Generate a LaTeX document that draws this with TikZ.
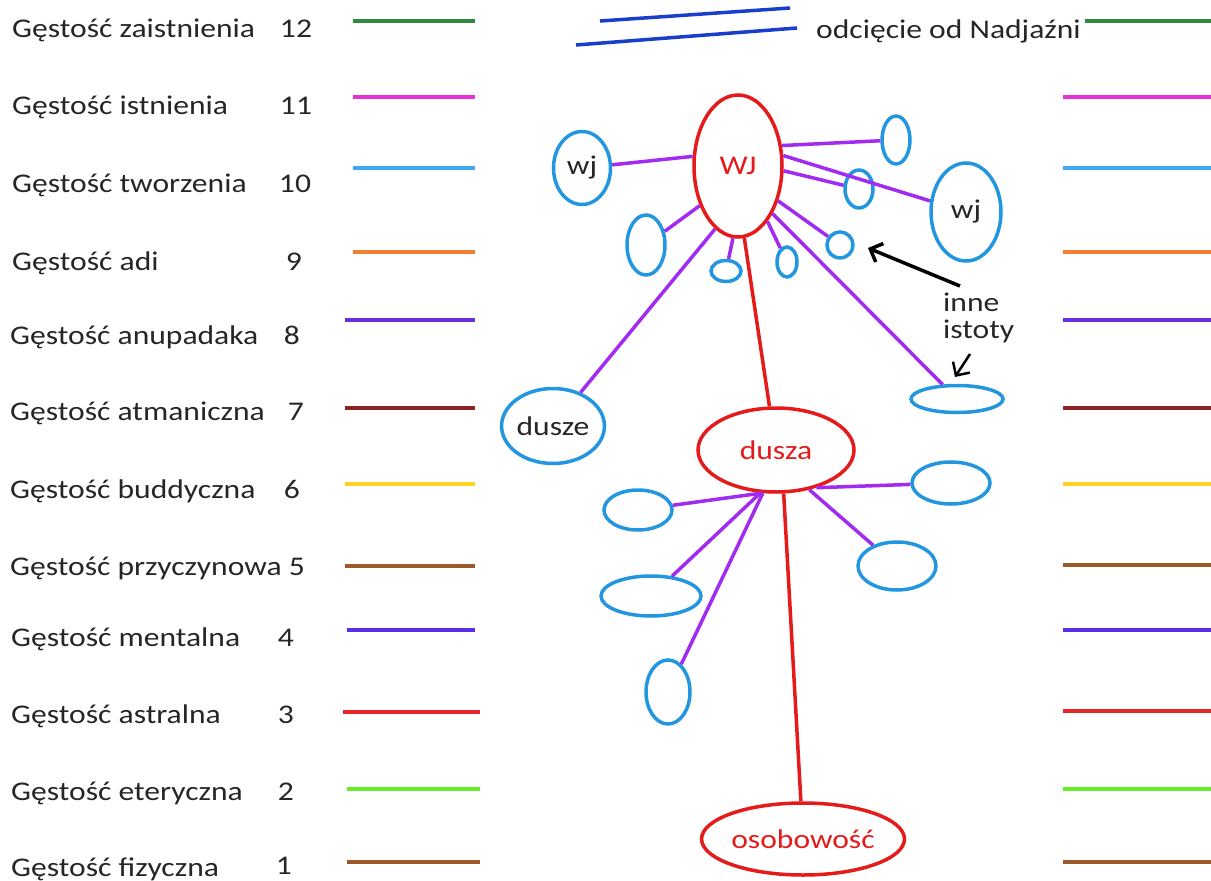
\documentclass[tikz,border=0pt]{standalone}
\usepackage{fontspec}
\setmainfont{Carlito}[FakeStretch=1.17]
\usetikzlibrary{shapes.geometric,arrows.meta}
\definecolor{txt}{HTML}{262626}
\definecolor{cA}{HTML}{2E8B3E}
\definecolor{cB}{HTML}{E830D8}
\definecolor{cC}{HTML}{40A8F0}
\definecolor{cD}{HTML}{F08030}
\definecolor{cE}{HTML}{6A30E0}
\definecolor{cF}{HTML}{8B2525}
\definecolor{cG}{HTML}{FFD21F}
\definecolor{cH}{HTML}{9C5A2C}
\definecolor{cI}{HTML}{5A2EE8}
\definecolor{cJ}{HTML}{E8262A}
\definecolor{cK}{HTML}{66EE2A}
\definecolor{dblue}{HTML}{1A3ECC}
\definecolor{eblue}{HTML}{2396E0}
\definecolor{ered}{HTML}{E51A1A}
\definecolor{conn}{HTML}{A12BF0}
\tikzset{
  lbl/.style={anchor=base west,inner sep=0,text=txt,font=\fontsize{27}{30}\selectfont},
  num/.style={anchor=base,inner sep=0,text=txt,font=\fontsize{27}{30}\selectfont},
  lvl/.style={line width=3.5pt},
  be/.style={ellipse,draw=eblue,line width=3.5pt,inner sep=0,text=txt,font=\fontsize{27}{29}\selectfont},
  re/.style={ellipse,draw=ered,line width=3.5pt,inner sep=0,text=ered,font=\fontsize{27}{29}\selectfont},
  pc/.style={draw=conn,line width=3.5pt},
  rc/.style={draw=ered,line width=3.5pt},
  arr/.style={draw=black,line width=3.5pt,-{Straight Barb[length=10pt,width=20pt]}}
}
\begin{document}
\begin{tikzpicture}[x=1pt,y=-1pt]
\useasboundingbox (0,0) rectangle (1211,881);
% level labels
\node[lbl] (l12) at (12,37) {Gęstość zaistnienia};
\node[lbl] (l11) at (12,114) {Gęstość istnienia};
\node[lbl] (l10) at (12,192) {Gęstość tworzenia};
\node[lbl] (l9) at (12,270) {Gęstość adi};
\node[lbl] (l8) at (10,344) {Gęstość anupadaka};
\node[lbl] (l7) at (10,420) {Gęstość atmaniczna};
\node[lbl] (l6) at (10,498) {Gęstość buddyczna};
\node[lbl] (l5) at (10,575) {Gęstość przyczynowa};
\node[lbl] (l4) at (11,646) {Gęstość mentalna};
\node[lbl] (l3) at (11,723) {Gęstość astralna};
\node[lbl] (l2) at (11,800) {Gęstość eteryczna};
\node[lbl] (l1) at (11,876) {Gęstość fizyczna};
% numbers
\node[num] (n12) at (296,37) {12};
\node[num] (n11) at (296,114) {11};
\node[num] (n10) at (295,192) {10};
\node[num] (n9) at (294,270) {9};
\node[num] (n8) at (292,344) {8};
\node[num] (n7) at (296,420) {7};
\node[num] (n6) at (292,498) {6};
\node[num] (n5) at (297,575) {5};
\node[num] (n4) at (286,646) {4};
\node[num] (n3) at (286,723) {3};
\node[num] (n2) at (286,800) {2};
\node[num] (n1) at (284,874) {1};
% left level lines
\draw[lvl,cA] (353,21) -- (475,21);
\draw[lvl,cB] (353,97) -- (475,97);
\draw[lvl,cC] (353,168) -- (475,168);
\draw[lvl,cD] (353,252) -- (475,252);
\draw[lvl,cE] (345,320) -- (475,320);
\draw[lvl,cF] (345,408) -- (475,408);
\draw[lvl,cG] (345,484) -- (475,484);
\draw[lvl,cH] (345,566) -- (475,566);
\draw[lvl,cI] (347,630) -- (475,630);
\draw[lvl,cJ] (343,712) -- (480,712);
\draw[lvl,cK] (347,789) -- (480,789);
\draw[lvl,cH] (347,862) -- (480,862);
% right level lines
\draw[lvl,cA] (1085,21) -- (1211,21);
\draw[lvl,cB] (1063,97) -- (1211,97);
\draw[lvl,cC] (1063,168) -- (1211,168);
\draw[lvl,cD] (1063,252) -- (1211,252);
\draw[lvl,cE] (1063,320) -- (1211,320);
\draw[lvl,cF] (1063,408) -- (1211,408);
\draw[lvl,cG] (1063,484) -- (1211,484);
\draw[lvl,cH] (1063,565) -- (1211,565);
\draw[lvl,cI] (1063,630) -- (1211,630);
\draw[lvl,cJ] (1063,711) -- (1211,711);
\draw[lvl,cK] (1063,789) -- (1211,789);
\draw[lvl,cH] (1063,862) -- (1211,862);
% cut-off sign
\draw[dblue,line width=3.5pt] (600,21) -- (790,8);
\draw[dblue,line width=3.5pt] (576,45) -- (797,28);
\node[lbl] (cut) at (816,38) {odcięcie od Nadjaźni};
% top structure
\node[re,minimum width=88pt,minimum height=142pt] (WJ) at (738,166) {WJ};
\node[be,minimum width=57pt,minimum height=73pt] (wjL) at (582,168) {wj};
\node[be,minimum width=28pt,minimum height=48pt] (s1) at (896,140) {};
\node[be,minimum width=70pt,minimum height=98pt] (wjR) at (966,212) {wj};
\node[be,minimum width=28pt,minimum height=38pt] (s2) at (859,189) {};
\node[be,minimum width=38pt,minimum height=60pt] (s3) at (646,245) {};
\node[be,minimum width=30pt,minimum height=21pt] (s4) at (726,271) {};
\node[be,minimum width=20pt,minimum height=30pt] (s5) at (787,262) {};
\node[be,minimum width=26pt,minimum height=26pt] (s6) at (840,245) {};
\node[be,minimum width=92pt,minimum height=27pt] (s7) at (957,399) {};
\node[be,minimum width=99pt,minimum height=75pt] (dusze) at (553,426) {dusze};
\draw[pc] (WJ.168) -- (wjL);
\draw[pc] (WJ.25) -- (s1);
\draw[pc] (WJ.13) -- (wjR);
\draw[pc] (WJ.-6) -- (s2);
\draw[pc] (WJ.226) -- (s3);
\draw[pc] (WJ.266) -- (s4);
\draw[pc] (WJ.298) -- (s5);
\draw[pc] (WJ.306) -- (s7);
\draw[pc] (WJ.319) -- (s6);
\draw[pc] (WJ.250) -- (dusze);
% inne istoty
\node[anchor=north west,align=left,inner sep=0,text=txt,font=\fontsize{27}{27}\selectfont] (inne) at (943,293) {inne\\istoty};
\coordinate (a1s) at (960,286);
\coordinate (a1e) at (868,248);
\coordinate (a2s) at (970,354);
\coordinate (a2e) at (955,377);
\draw[arr] (a1s) -- (a1e);
\draw[arr,line width=2.5pt] (a2s) -- (a2e);
% dusza
\node[re,minimum width=156pt,minimum height=84pt] (dusza) at (776,450) {dusza};
\draw[rc] (WJ.275) -- (dusza);
\node[be,minimum width=78pt,minimum height=42pt] (A) at (951,483) {};
\node[be,minimum width=68pt,minimum height=40pt] (B) at (638,510) {};
\node[be,minimum width=78pt,minimum height=48pt] (C) at (897,566) {};
\node[be,minimum width=100pt,minimum height=40pt] (D) at (651,596) {};
\node[be,minimum width=44pt,minimum height=64pt] (E) at (668,692) {};
\draw[pc] (dusza.317) -- (A);
\draw[pc] (dusza.252) -- (B);
\draw[pc] (dusza.310) -- (C);
\draw[pc] (dusza.250) -- (D);
\draw[pc] (dusza.253) -- (E);
\node[re,minimum width=198pt,minimum height=72pt] (oso) at (803,839) {osobowość};
\draw[rc] (dusza.280) -- (oso);
\end{tikzpicture}
\end{document}
